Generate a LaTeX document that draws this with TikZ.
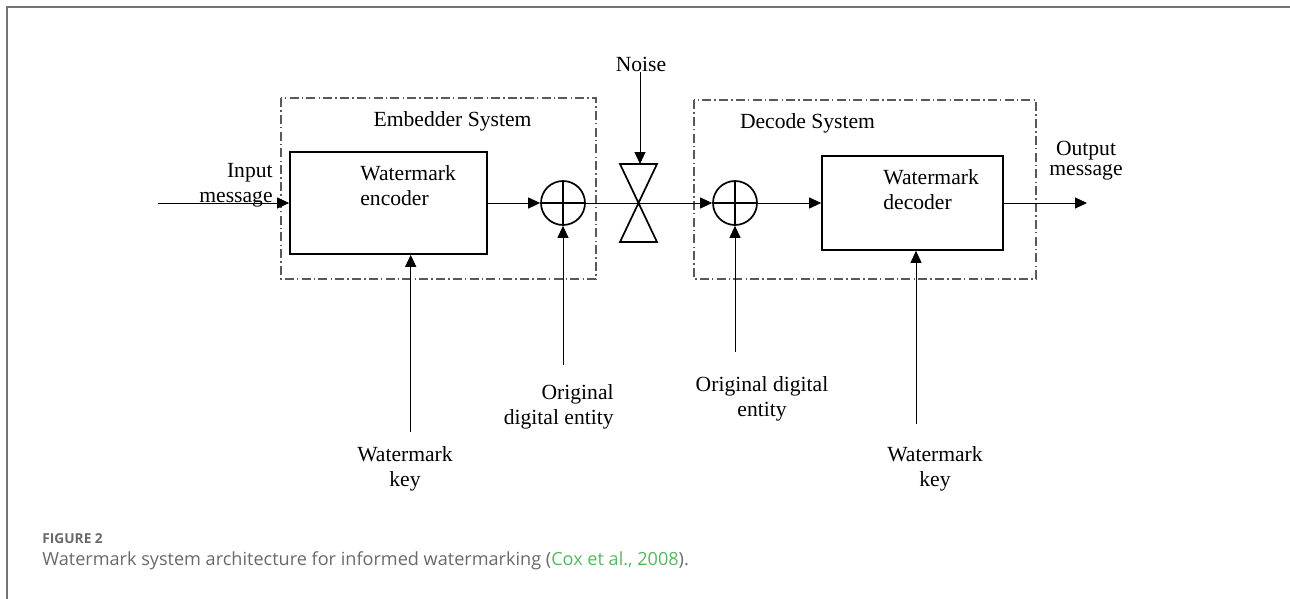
\documentclass[tikz,border=0pt]{standalone}
\usepackage{fontspec}
\setmainfont{Liberation Serif}
\newfontfamily\capfont{Open Sans}
\usetikzlibrary{arrows.meta}
\definecolor{capgray}{RGB}{105,105,105}
\definecolor{capgreen}{RGB}{84,184,98}

\begin{document}
\begin{tikzpicture}[x=0.5pt, y=-0.5pt]
    % Estilos del diagrama
    \tikzset{
        wmblock/.style={draw, rectangle, line width=0.85pt, inner sep=0pt},
        sumnode/.style={draw, circle, line width=0.85pt, minimum size=22pt, inner sep=0pt},
        sysbox/.style={draw=black!65, line width=0.6pt, dash pattern=on 4.5pt off 1.6pt on 0.7pt off 1.6pt},
        lbl/.style={font=\fontsize{10.8}{12.5}\selectfont, inner sep=0pt},
        flow/.style={-{Triangle[length=6pt, width=5.5pt]}, line width=0.5pt}
    }
    \useasboundingbox (0,0) rectangle (1290,599);
    \draw[black!55, line width=1pt] (7,599) -- (7,7) -- (1290,7);

    % Sistemas (cajas punteadas)
    \draw[sysbox] (281,98) rectangle (596,279);
    \draw[sysbox] (694,100) rectangle (1036,279);
    \node[lbl] (embtitle) at (452.5,121) {Embedder System};
    \node[lbl] (dectitle) at (807.5,123) {Decode System};

    % Bloques principales
    \node[wmblock, minimum width=98.5pt, minimum height=51pt] (enc) at (388.5,203) {};
    \node[wmblock, minimum width=90.5pt, minimum height=47pt] (dec) at (912.5,203) {};
    \node[lbl, align=left, anchor=west] (enctext) at (360,186) {Watermark\\encoder};
    \node[lbl, align=left, anchor=west] (dectext) at (883,190) {Watermark\\decoder};
    \node[sumnode] (sum1) at (563,203) {};
    \node[sumnode] (sum2) at (735,203) {};
    \draw[line width=0.85pt] (sum1.north) -- (sum1.south) (sum1.west) -- (sum1.east);
    \draw[line width=0.85pt] (sum2.north) -- (sum2.south) (sum2.west) -- (sum2.east);

    % Canal con ruido
    \coordinate (gatetop) at (640,164);
    \draw[line width=0.85pt] (620,164) -- (657,164) -- (620,242) -- (657,242) -- cycle;
    \node[lbl] (noise) at (641,64) {Noise};

    % Etiquetas de entrada y salida
    \node[lbl, align=right, anchor=east] (inmsg) at (273,185) {Input\\message};
    \node[lbl, align=center, font=\fontsize{10.8}{10}\selectfont] (outmsg) at (1086,161) {Output\\message};
    \node[lbl, align=center] (key1text) at (405,469) {Watermark\\key};
    \node[lbl, align=right, anchor=east] (orig1text) at (614,407) {Original\\digital entity};
    \node[lbl, align=center] (orig2text) at (762,399) {Original digital\\entity};
    \node[lbl, align=center] (key2text) at (935,469) {Watermark\\key};

    % Extremos libres
    \coordinate (in) at (158,203);
    \coordinate (out) at (1087,203);
    \coordinate (key1) at (410.7,432);
    \coordinate (orig1) at (563,365);
    \coordinate (orig2) at (735,352);
    \coordinate (key2) at (916,424);

    % Conexiones
    \draw[flow] (in) -- (enc.west);
    \draw[flow] (enc.east) -- (sum1.west);
    \draw[flow] (sum1.east) -- (sum2.west);
    \draw[flow] (sum2.east) -- (dec.west);
    \draw[flow] (dec.east) -- (out);
    \draw[flow] (noise.south -| gatetop) -- (gatetop);
    \draw[flow] (key1) -- (key1 |- enc.south);
    \draw[flow] (orig1) -- (sum1.south);
    \draw[flow] (orig2) -- (sum2.south);
    \draw[flow] (key2) -- (key2 |- dec.south);

    % Pie de figura
    \node[anchor=base west, inner sep=0pt, font=\capfont\fontsize{6.85}{7}\selectfont\bfseries, text=capgray] (figno) at (42,543) {FIGURE 2};
    \node[anchor=base west, inner sep=0pt, font=\capfont\fontsize{9.05}{10}\selectfont, text=capgray] (captxt) at (42,565) {Watermark system architecture for informed watermarking ({\color{capgreen}Cox et al., 2008}).};
\end{tikzpicture}
\end{document}
